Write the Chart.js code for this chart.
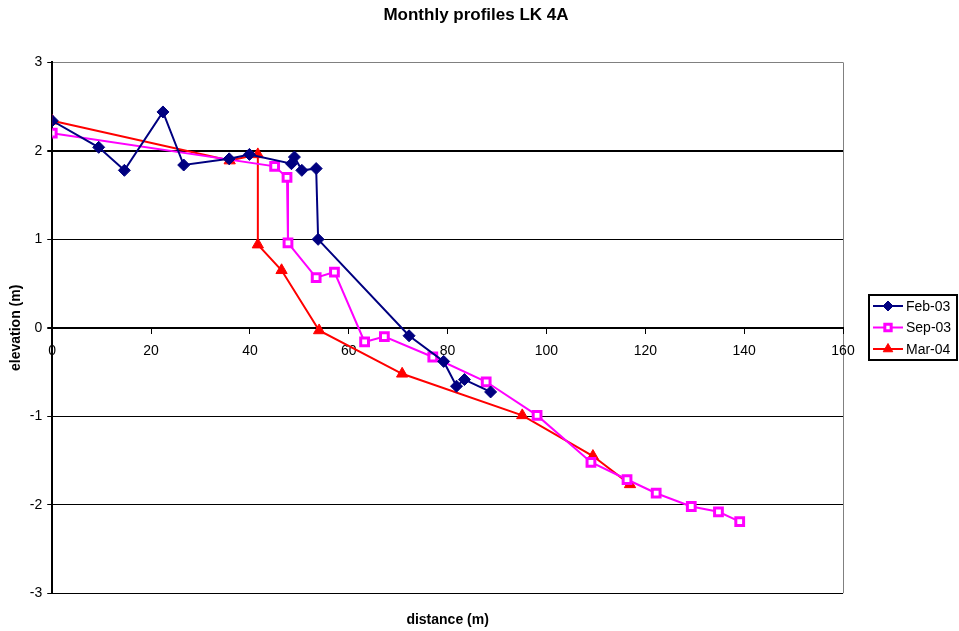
<!DOCTYPE html>
<html>
<head>
<meta charset="utf-8">
<script src="https://cdn.jsdelivr.net/npm/chart.js@4"></script>
<style>
  html, body { margin: 0; padding: 0; background: #fff; }
  #wrap { width: 959px; height: 631px; position: relative; }
</style>
</head>
<body>
<div id="wrap"><canvas id="myChart"></canvas></div>
<script>
// profile data: distance (m) / elevation (m)
const febX = [0, 9.4, 14.6, 22.4, 26.6, 35.8, 39.9, 48.4, 49.0, 50.5, 53.4, 53.8, 72.2, 79.2, 81.8, 83.4, 88.7];
const febY = [2.34, 2.04, 1.78, 2.44, 1.84, 1.91, 1.96, 1.855, 1.93, 1.78, 1.80, 1.00, -0.09, -0.38, -0.66, -0.585, -0.725];

const sepX = [0, 45.0, 47.5, 47.7, 53.4, 57.1, 63.2, 67.2, 77.0, 87.8, 98.1, 109.0, 116.3, 122.2, 129.3, 134.8, 139.1];
const sepY = [2.20, 1.825, 1.70, 0.96, 0.567, 0.63, -0.16, -0.10, -0.33, -0.61, -0.99, -1.52, -1.715, -1.87, -2.02, -2.08, -2.19];

const marX = [0, 35.9, 41.6, 41.6, 46.4, 54.0, 70.8, 95.1, 109.4, 116.9];
const marY = [2.34, 1.89, 1.96, 0.94, 0.65, -0.03, -0.52, -0.99, -1.45, -1.77];

const seriesNames = ['Feb-03', 'Sep-03', 'Mar-04'];
const xTicks = [0, 20, 40, 60, 80, 100, 120, 140, 160];
const yTicks = [-3, -2, -1, 0, 1, 2, 3];

const FONT = "'Liberation Sans', Arial, sans-serif";

function pts(xs, ys) {
    return xs.map((x, i) => ({ x: x, y: ys[i] }));
}

const data = {
    datasets: [{
        label: seriesNames[0],
        data: pts(febX, febY),
        borderColor: '#000080',
        backgroundColor: '#000080',
        pointStyle: 'rectRot',
        pointRadius: 6,
        pointBackgroundColor: '#000080',
        pointBorderColor: '#000080',
        pointBorderWidth: 1,
        borderWidth: 2
    }, {
        label: seriesNames[1],
        data: pts(sepX, sepY),
        borderColor: '#ff00ff',
        backgroundColor: '#ff00ff',
        pointStyle: 'rect',
        pointRadius: 5.5,
        pointBackgroundColor: '#ffffff',
        pointBorderColor: '#ff00ff',
        pointBorderWidth: 3,
        borderWidth: 2
    }, {
        label: seriesNames[2],
        data: pts(marX, marY),
        borderColor: '#ff0000',
        backgroundColor: '#ff0000',
        pointStyle: 'triangle',
        pointRadius: 6.5,
        pointBackgroundColor: '#ff0000',
        pointBorderColor: '#ff0000',
        pointBorderWidth: 1,
        borderWidth: 2
    }]
};

// legend drawn by hand: line + marker per series, black frame round it
const legendBox = {
    id: 'legendBox',
    afterDraw(chart) {
        const ctx = chart.ctx;
        const rows = [306, 327.5, 349];
        ctx.save();
        ctx.fillStyle = '#fff';
        ctx.fillRect(869, 295, 88, 65);
        ctx.strokeStyle = '#000';
        ctx.lineWidth = 2;
        ctx.strokeRect(869, 295, 88, 65);
        chart.data.datasets.forEach((ds, i) => {
            const cy = rows[i];
            ctx.strokeStyle = ds.borderColor;
            ctx.lineWidth = 2;
            ctx.beginPath();
            ctx.moveTo(873, cy);
            ctx.lineTo(903, cy);
            ctx.stroke();
            ctx.fillStyle = ds.pointBackgroundColor;
            ctx.strokeStyle = ds.pointBorderColor;
            ctx.lineWidth = ds.pointBorderWidth;
            Chart.helpers.drawPoint(ctx, {
                pointStyle: ds.pointStyle,
                radius: ds.pointRadius - 1,
                rotation: 0,
                borderWidth: ds.pointBorderWidth
            }, 888, cy);
            ctx.fillStyle = '#000';
            ctx.font = '14px ' + FONT;
            ctx.textBaseline = 'middle';
            ctx.textAlign = 'left';
            ctx.fillText(ds.label, 906, cy + 1);
        });
        ctx.restore();
    }
};

const config = {
    type: 'scatter',
    data,
    options: {
        responsive: true,
        maintainAspectRatio: false,
        animation: false,
        showLine: true,
        layout: { padding: { left: 8, right: 15, top: 0, bottom: 2 } },
        elements: { line: { tension: 0 } },
        plugins: {
            title: {
                display: true,
                text: 'Monthly profiles LK 4A',
                color: '#000',
                font: { family: FONT, size: 17, weight: 'bold' },
                padding: { top: 5, bottom: 37 }
            },
            legend: { display: false },
            tooltip: { enabled: false }
        },
        scales: {
            x: {
                type: 'linear',
                position: { y: 0 },
                min: 0,
                max: 160,
                afterBuildTicks: axis => { axis.ticks = xTicks.map(v => ({ value: v })); },
                grid: {
                    color: c => (c.tick && c.tick.value === 160) ? '#808080' : 'rgba(0,0,0,0)',
                    tickColor: '#000',
                    tickLength: 5,
                    lineWidth: 1
                },
                border: { color: '#000', width: 2 },
                ticks: { color: '#000', font: { family: FONT, size: 14 }, padding: 9.5, maxRotation: 0 }
            },
            x2: {
                type: 'linear',
                position: 'bottom',
                min: 0,
                max: 160,
                grid: { display: false },
                border: { display: false },
                ticks: { display: false },
                title: {
                    display: true,
                    text: 'distance (m)',
                    color: '#000',
                    font: { family: FONT, size: 14, weight: 'bold' },
                    padding: { top: 11, bottom: 0 }
                }
            },
            y: {
                type: 'linear',
                min: -3,
                max: 3,
                afterBuildTicks: axis => { axis.ticks = yTicks.map(v => ({ value: v })); },
                grid: {
                    color: c => (c.tick && c.tick.value === 3) ? '#808080' : '#000',
                    lineWidth: c => (c.tick && (c.tick.value === 2 || c.tick.value === 0)) ? 2 : 1,
                    tickColor: '#000',
                    tickLength: 5
                },
                border: { color: '#000', width: 2 },
                ticks: { color: '#000', font: { family: FONT, size: 14 }, padding: 5 },
                title: {
                    display: true,
                    text: 'elevation (m)',
                    color: '#000',
                    font: { family: FONT, size: 14, weight: 'bold' },
                    padding: { top: 0, bottom: 0 }
                }
            },
            // empty right-hand axis: keeps room for the legend
            y2: {
                type: 'linear',
                position: 'right',
                min: -3,
                max: 3,
                grid: { display: false },
                border: { display: false },
                ticks: { display: false },
                afterFit: axis => { axis.width = 101; }
            }
        }
    },
    plugins: [legendBox]
};

var myChart = new Chart(
    document.getElementById('myChart'),
    config
);
</script>
</body>
</html>
